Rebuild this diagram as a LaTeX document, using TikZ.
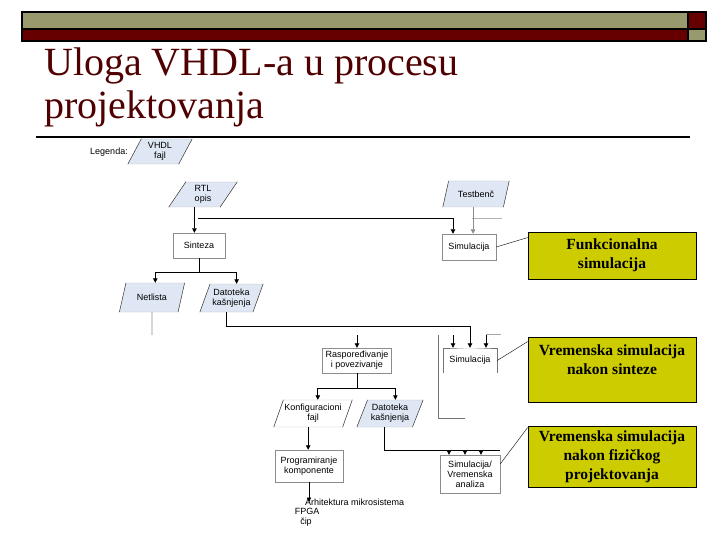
\documentclass[tikz,border=0pt]{standalone}
\usepackage{fontspec}
\setmainfont{Liberation Serif}
\newfontfamily\diagfont{Liberation Sans}
\usetikzlibrary{shapes.geometric,arrows.meta}
\definecolor{barolive}{RGB}{153,153,110}
\definecolor{barred}{RGB}{102,0,0}
\definecolor{titlered}{RGB}{80,0,0}
\definecolor{filefill}{RGB}{222,231,243}
\definecolor{notefill}{RGB}{204,204,0}
\newcommand\diagsize{\diagfont\fontsize{9}{10}\selectfont}

\begin{document}
\begin{tikzpicture}[x=1pt,y=-1pt,
  box/.style={draw=black!45,fill=white,font=\diagsize,align=center,inner sep=1pt},
  file/.style={trapezium,trapezium left angle=65,trapezium right angle=115,
    trapezium stretches=true,draw=black!25,fill=filefill,font=\diagsize,align=center,inner sep=1pt},
  note/.style={draw=black,line width=0.8pt,fill=notefill,minimum width=168pt,align=center,
    font=\bfseries\fontsize{15.5}{19}\selectfont},
  wire/.style={black,line width=0.8pt},
  arr/.style={wire,-{Triangle[length=4.5pt,width=4.5pt]}}]
  \useasboundingbox (0,0) rectangle (720,540);

  % top bar
  \fill[barolive] (22,12) rectangle (688,29);
  \fill[barred] (22,29) rectangle (688,41);
  \fill[barred] (688,12) rectangle (706,29);
  \fill[barolive] (688,29) rectangle (706,41);
  \draw[line width=1.6pt] (22,12) rectangle (706,41);
  \draw[line width=1.6pt] (22,29) -- (706,29) (688,12) -- (688,41);

  % title
  \node[anchor=base west,inner sep=0,text=titlered,font=\fontsize{40}{43}\selectfont] (title1) at (44,76) {Uloga VHDL-a u procesu};
  \node[anchor=base west,inner sep=0,text=titlered,font=\fontsize{40}{43}\selectfont] (title2) at (44,119) {projektovanja};
  \draw[line width=1.6pt] (36,137) -- (690,137);

  % legend
  \node[font=\diagsize] (legend) at (109,152) {Legenda:};
  \node[file,minimum width=64pt,minimum height=25pt] (vhdl) at (160,151.5) {VHDL\\fajl};

  % nodes
  \node[file,minimum width=68pt,minimum height=25pt] (rtl) at (203,194.5) {RTL\\opis};
  \node[file,minimum width=66pt,minimum height=26pt] (tb) at (476,194) {Testbenč};
  \node[box,minimum width=52pt,minimum height=25pt] (sinteza) at (199,245.5) {Sinteza};
  \node[box,minimum width=54pt,minimum height=26pt] (sim1) at (469,247) {Simulacija};
  \node[file,minimum width=65pt,minimum height=29pt] (netl) at (152,297.5) {Netlista};
  \node[file,minimum width=63pt,minimum height=28pt] (dat1) at (231.5,298) {Datoteka\\kašnjenja};
  \node[box,minimum width=69pt,minimum height=25pt] (raspored) at (357,360.5) {Raspoređivanje\\i povezivanje};
  \node[font=\diagsize,minimum width=54pt,minimum height=25pt,inner sep=1pt] (sim2) at (470,360.5) {Simulacija};
  \node[file,fill=white,minimum width=78pt,minimum height=27pt] (konf) at (313,413.5) {Konfiguracioni\\fajl};
  \node[file,minimum width=66pt,minimum height=27pt] (dat2) at (390,413.5) {Datoteka\\kašnjenja};
  \node[box,minimum width=68pt,minimum height=32pt] (program) at (309,466) {Programiranje\\komponente};
  \node[box,minimum width=60pt,minimum height=38pt] (simva) at (470,474) {Simulacija/\\Vremenska\\analiza};
  \node[font=\diagsize,anchor=west,inner sep=0] (arh) at (305,502) {Arhitektura mikrosistema};
  \node[font=\diagsize,inner sep=0] (fpgatxt) at (307,511) {FPGA};
  \node[font=\diagsize,inner sep=0] (cip) at (306,522) {čip};

  % notes
  \node[note,minimum height=47pt] (note1) at (612,255.5) {Funkcionalna\\simulacija};
  \node[note,minimum height=65pt] (note2) at (612,369.5) {Vremenska simulacija\\nakon sinteze\\\mbox{}};
  \node[note,minimum height=61pt] (note3) at (612,456.5) {Vremenska simulacija\\nakon fizičkog\\projektovanja};

  % dark sides of the files
  \foreach \n in {vhdl,rtl,tb,netl,dat1,konf,dat2}
    \draw[black!85] (\n.bottom left corner) -- (\n.top left corner)
      (\n.bottom right corner) -- (\n.top right corner);

  % free ends
  \coordinate (spl1) at (198,218);
  \coordinate (spl2) at (199,272);
  \coordinate (netlend) at (152,335);
  \coordinate (dat1turn) at (470,326);
  \coordinate (sim2a) at (453,335);
  \coordinate (sim2c) at (486,335);
  \coordinate (stub1) at (472,218);
  \coordinate (stub1e) at (502,218);
  \coordinate (stub2) at (486,334);
  \coordinate (stub2e) at (501,334);
  \coordinate (loopa) at (438,335);
  \coordinate (loopb) at (465,418);
  \coordinate (rasin) at (357,335);
  \coordinate (spl3) at (357,388);
  \coordinate (fpga) at (309,502);
  \coordinate (dat2turn) at (500,450);

  % connectors
  \draw[arr] (rtl.bottom side) -- (rtl.bottom side |- sinteza.north);
  \draw[arr] (spl1) -| ([xshift=-16pt]sim1.north);
  \draw[black!30] (stub1) -- (stub1e);
  \draw[arr,black!45] (tb.bottom side) -- (tb.bottom side |- sim1.north);
  \draw[wire] (sinteza.south) -- (spl2);
  \draw[arr] (spl2) -| (netl.top side);
  \draw[arr] (spl2) -| (dat1.top side);
  \draw[black!45,line width=0.8pt] (netl.south) -- (netlend);
  \draw[arr] (dat1.bottom side) |- (dat1turn) -- (sim2.north);
  \draw[arr] (sim2a) -- (sim2a |- sim2.north);
  \draw[arr] (sim2c) -- (sim2c |- sim2.north);
  \draw[black!35] (stub2) -- (stub2e);
  \draw[black!55] (sim2.south west) |- (sim2.north) -| (sim2.south east);
  \draw[black!55] (loopa) |- (loopb);
  \draw[arr] (rasin) -- (rasin |- raspored.north);
  \draw[wire] (raspored.south) -- (spl3);
  \draw[arr] (spl3) -| (konf.top side);
  \draw[arr] (spl3) -| (dat2.top side);
  \draw[arr] (konf.bottom side) -- (konf.bottom side |- program.north);
  \draw[arr] (program.south) -- (fpga);
  \draw[wire] (dat2.bottom side) |- (dat2turn);
  \foreach \d in {-21,-5,11}
    \draw[arr] ([xshift=\d pt,yshift=5pt]simva.north) -- ([xshift=\d pt]simva.north);
  \draw (sim1.east) -- ([yshift=-6pt]note1.north west);
  \draw (sim2.east) -- ([yshift=-5pt]note2.north west);
  \draw ([yshift=10pt]simva.east) -- ([yshift=-2pt]note3.north west);
\end{tikzpicture}
\end{document}
